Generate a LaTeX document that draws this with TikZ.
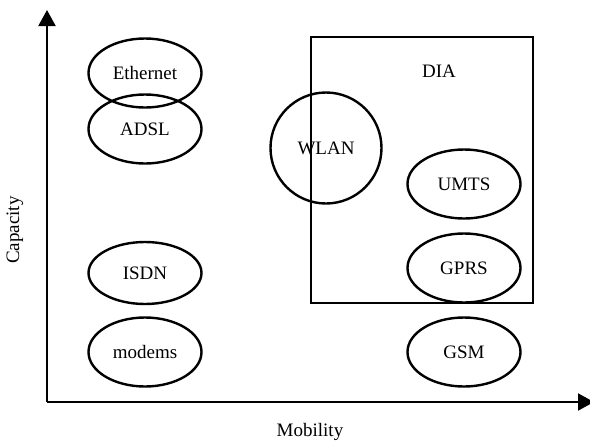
\documentclass[tikz,border=0pt]{standalone}
\usepackage{fontspec}
\setmainfont{Liberation Serif}
\usetikzlibrary{arrows.meta,shapes.geometric,positioning}

\begin{document}
\begin{tikzpicture}[x=0.5pt,y=-0.5pt,
        every node/.style={font=\fontsize{9.5}{11}\selectfont},
        tech/.style={draw,line width=1.2pt,ellipse,inner sep=0pt,
                     minimum width=56.5pt,minimum height=34.5pt},
        axis/.style={line width=1pt,-{Triangle[length=8pt,width=8.5pt]}}]
        \useasboundingbox (0,0) rectangle (590,440);
        % axes
        \coordinate (origin) at (47,402);
        \coordinate (ytop) at (47,10);
        \coordinate (xend) at (594,402);
        \draw[axis] (origin) -- (ytop);
        \draw[axis] (origin) -- (xend);
        \node[rotate=90] (capacity) at (15,230) {Capacity};
        \node (mobility) at (310,432) {Mobility};
        % fixed access
        \node[tech] (ethernet) at (145,73) {Ethernet};
        \node[tech] (adsl) at (145,129) {ADSL};
        \node[tech,minimum height=31pt] (isdn) at (145,273) {ISDN};
        \node[tech] (modems) at (145,352) {modems};
        % DIA box
        \draw[line width=0.6pt] (311,37) rectangle (533,303);
        \node (dia) at (439,71) {DIA};
        \node[draw,circle,line width=1.2pt,inner sep=0pt,minimum size=55.5pt] (wlan) at (326,148) {WLAN};
        % mobile access
        \node[tech] (umts) at (464,184) {UMTS};
        \node[tech] (gprs) at (464,268) {GPRS};
        \node[tech] (gsm) at (464,352) {GSM};
\end{tikzpicture}
\end{document}
